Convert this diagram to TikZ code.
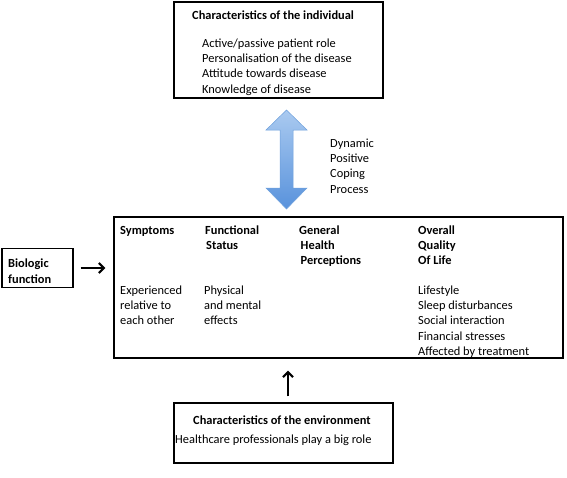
\documentclass[tikz,border=0pt]{standalone}
\usepackage{fontspec}
\setmainfont{Carlito}
\usetikzlibrary{arrows.meta}
\definecolor{arrtop}{RGB}{170,202,240}
\definecolor{arrbot}{RGB}{88,146,220}
\definecolor{arredge}{RGB}{110,160,220}
\begin{document}
\begin{tikzpicture}[x=1pt,y=-1pt,
  box/.style={draw=black,line width=1.1pt,inner sep=0pt,minimum width=#1},
  txt/.style={inner sep=0pt,anchor=base west,align=left,font=\fontsize{12.4}{15.2}\selectfont},
  btxt/.style={txt,font=\fontsize{12.4}{15.2}\selectfont\bfseries},
  arr/.style={line width=2.2pt,-{Straight Barb[length=5pt,width=10pt]}}]
\useasboundingbox (0,0) rectangle (567,477);
% top box
\node[box=209pt,minimum height=96pt] (indiv) at (278.5,50) {};
\node[btxt] (indivT) at (192,19.5) {Characteristics of the individual};
\node[txt] (indivL) at (202,93.1) {Active/passive patient role\\Personalisation of the disease\\Attitude towards disease\\Knowledge of disease};
% double arrow
\shade[top color=arrtop,bottom color=arrbot,draw=arredge,line width=0.5pt]
  (280,130) -- (266,130) -- (286.5,110) -- (307,130) -- (293,130) -- (293,188)
  -- (307,188) -- (286.5,209) -- (266,188) -- (280,188) -- cycle;
\node[txt] (dyn) at (330,193.1) {Dynamic\\Positive\\Coping\\Process};
% main box
\node[box=449pt,minimum height=141pt] (main) at (338.5,287.5) {};
\node[btxt] (sym) at (120,234.5) {Symptoms};
\node[btxt] (fun) at (205,249.7) {Functional\\\hspace*{1pt}Status};
\node[btxt] (gen) at (299,264.9) {General\\\hspace*{1.5pt}Health\\\hspace*{1.5pt}Perceptions};
\node[btxt] (qol) at (418,264.9) {Overall\\Quality\\Of Life};
\node[txt] (symL) at (120,324.9) {Experienced\\relative to\\each other};
\node[txt] (funL) at (204,324.9) {Physical\\and mental\\effects};
\node[txt] (qolL) at (418,355.3) {Lifestyle\\Sleep disturbances\\Social interaction\\Financial stresses\\Affected by treatment};
% biologic
\node[box=71pt,minimum height=39pt] (bio) at (37.5,268) {};
\node[btxt] (bioT) at (8,283) {Biologic\\function};
% environment
\node[box=219pt,minimum height=60pt] (env) at (283.5,433) {};
\node[btxt] (envT) at (193,424.5) {Characteristics of the environment};
\node[txt] (envL) at (175,443.5) {Healthcare professionals play a big role};
% connectors
\coordinate (ax) at (288,0);
\draw[arr,shorten <=7pt,shorten >=8pt] (bio.east) -- (bio.east -| main.west);
\draw[arr,shorten <=6pt,shorten >=12pt] (env.north -| ax) -- (main.south -| ax);
\end{tikzpicture}
\end{document}
